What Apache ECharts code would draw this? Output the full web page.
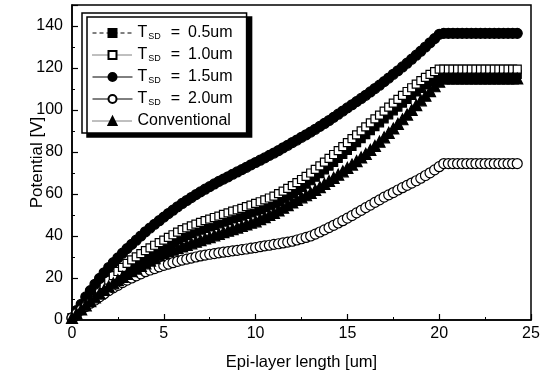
<!DOCTYPE html>
<html>
<head>
<meta charset="utf-8">
<script src="https://cdn.jsdelivr.net/npm/echarts@6/dist/echarts.min.js"></script>
<style>
  html, body { margin: 0; padding: 0; background: #fff; }
  #chart { width: 548px; height: 376px; }
</style>
</head>
<body>
<div id="chart"></div>
<script>
// x positions along the epi-layer [um]
const epiX = [
  0, 0.25, 0.5, 0.75, 1, 1.25, 1.5, 1.75, 2, 2.25, 2.5, 2.75, 3, 3.25, 3.5, 3.75,
  4, 4.25, 4.5, 4.75, 5, 5.25, 5.5, 5.75, 6, 6.25, 6.5, 6.75, 7, 7.25, 7.5, 7.75,
  8, 8.25, 8.5, 8.75, 9, 9.25, 9.5, 9.75, 10, 10.25, 10.5, 10.75, 11, 11.25, 11.5, 11.75,
  12, 12.25, 12.5, 12.75, 13, 13.25, 13.5, 13.75, 14, 14.25, 14.5, 14.75, 15, 15.25, 15.5, 15.75,
  16, 16.25, 16.5, 16.75, 17, 17.25, 17.5, 17.75, 18, 18.25, 18.5, 18.75, 19, 19.25, 19.5, 19.75,
  20, 20.25, 20.5, 20.75, 21, 21.25, 21.5, 21.75, 22, 22.25, 22.5, 22.75, 23, 23.25, 23.5, 23.75,
  24, 24.25
];

// T_SD = 0.5um (mostly hidden just under the 1.0um squares)
const tsd05 = [
  1, 3.1, 5.2, 7.2, 9.3, 11.4, 13.5, 15.5, 17.5, 19.4, 21.2, 23, 24.7, 26.1, 27.5, 28.8,
  30, 31.2, 32.3, 33.4, 34.5, 35.7, 36.9, 38.1, 39.3, 40.2, 41.1, 42, 42.8, 43.6, 44.3, 45.1,
  45.8, 46.6, 47.3, 48.1, 48.8, 49.5, 50.3, 51, 51.8, 52.6, 53.5, 54.4, 55.3, 56.5, 57.7, 59,
  60.3, 61.7, 63.2, 64.7, 66.3, 68, 69.7, 71.5, 73.3, 75.1, 77, 78.9, 80.8, 82.7, 84.5, 86.4,
  88.3, 90.2, 92.1, 93.9, 95.8, 97.7, 99.6, 101.4, 103.3, 105.1, 106.9, 108.6, 110.3, 111.9, 113.5, 115,
  116.3, 117, 117, 117, 117, 117, 117, 117, 117, 117, 117, 117, 117, 117, 117, 117,
  117, 117
];

const tsd10 = [
  1, 3.3, 5.6, 7.8, 10, 12.3, 14.6, 16.8, 19, 21.1, 23.1, 25.1, 27, 28.6, 30.1, 31.6,
  33, 34.3, 35.6, 36.8, 38, 39.3, 40.6, 41.8, 43, 43.9, 44.8, 45.7, 46.5, 47.3, 48, 48.8,
  49.5, 50.3, 51, 51.8, 52.5, 53.2, 54, 54.7, 55.5, 56.3, 57.2, 58.1, 59, 60.2, 61.4, 62.7,
  64, 65.4, 66.9, 68.4, 70, 71.7, 73.4, 75.2, 77, 78.8, 80.7, 82.6, 84.5, 86.4, 88.2, 90.1,
  92, 93.9, 95.8, 97.6, 99.5, 101.4, 103.3, 105.1, 107, 108.8, 110.6, 112.3, 114, 115.5, 117, 118.3,
  119.5, 119.5, 119.5, 119.5, 119.5, 119.5, 119.5, 119.5, 119.5, 119.5, 119.5, 119.5, 119.5, 119.5, 119.5, 119.5,
  119.5, 119.5
];

const tsd15 = [
  1, 4.5, 7.5, 11, 14, 17, 19.8, 22.5, 25, 27.3, 29.6, 31.8, 34, 36, 38, 40,
  42, 43.8, 45.6, 47.3, 49, 50.7, 52.3, 53.9, 55.5, 56.9, 58.3, 59.7, 61, 62.3, 63.5, 64.8,
  66, 67.1, 68.2, 69.4, 70.5, 71.6, 72.7, 73.9, 75, 76.1, 77.2, 78.4, 79.5, 80.7, 82, 83.2,
  84.5, 85.7, 87, 88.2, 89.5, 90.8, 92.2, 93.6, 95, 96.5, 98, 99.5, 101, 102.5, 104, 105.5,
  107, 108.6, 110.2, 111.8, 113.5, 115.2, 117, 118.7, 120.5, 122.3, 124.2, 126.1, 128, 130, 132, 134,
  136, 136.5, 136.5, 136.5, 136.5, 136.5, 136.5, 136.5, 136.5, 136.5, 136.5, 136.5, 136.5, 136.5, 136.5, 136.5,
  136.5, 136.5
];

const tsd20 = [
  1, 3, 4.8, 6.4, 8, 9.5, 11, 12.5, 14, 15.3, 16.5, 17.8, 19, 20, 21, 22,
  23, 23.8, 24.5, 25.3, 26, 26.6, 27.3, 27.9, 28.5, 29, 29.5, 30, 30.5, 30.9, 31.3, 31.6,
  32, 32.3, 32.6, 32.9, 33.2, 33.5, 33.8, 34.2, 34.5, 34.9, 35.3, 35.6, 36, 36.3, 36.7, 37.1,
  37.5, 38.1, 38.7, 39.3, 40, 40.9, 41.9, 42.9, 44, 45.1, 46.2, 47.3, 48.5, 49.7, 51, 52.2,
  53.5, 54.7, 56, 57.2, 58.5, 59.6, 60.7, 61.9, 63, 64.1, 65.2, 66.3, 67.5, 68.8, 70.1, 71.5,
  73, 74.5, 74.5, 74.5, 74.5, 74.5, 74.5, 74.5, 74.5, 74.5, 74.5, 74.5, 74.5, 74.5, 74.5, 74.5,
  74.5, 74.5
];

const conventional = [
  1, 3, 5, 7, 9, 10.8, 12.6, 14.3, 16, 17.5, 19, 20.5, 22, 23.3, 24.5, 25.8,
  27, 28.3, 29.5, 30.8, 32, 32.8, 33.5, 34.3, 35, 35.8, 36.5, 37.3, 38, 38.8, 39.5, 40.3,
  41, 41.8, 42.5, 43.3, 44, 44.8, 45.5, 46.3, 47, 48, 49, 50, 51, 52.2, 53.5, 54.7,
  56, 57.2, 58.4, 59.4, 60.5, 61.9, 63.3, 64.8, 66.2, 67.7, 69.2, 70.8, 72.4, 74, 75.7, 77.4,
  79.1, 81, 82.9, 84.9, 87, 89.1, 91.2, 93.4, 95.6, 97.8, 100, 102.3, 104.6, 106.8, 109, 111.3,
  113.5, 115, 115, 115, 115, 115, 115, 115, 115, 115, 115, 115, 115, 115, 115, 115,
  115, 115
];

const legendLabels = {
  T05: '0.5um',
  T10: '1.0um',
  T15: '1.5um',
  T20: '2.0um'
};
const xTicks = [0, 5, 10, 15, 20, 25];
const yTicks = [0, 20, 40, 60, 80, 100, 120, 140];

const pair = (ys) => epiX.map((x, i) => [x, ys[i]]);

const font = '"Liberation Sans", Arial, sans-serif';

const mkSeries = (name, ys, symbol, filled, size) => ({
  name: name,
  type: 'line',
  data: pair(ys),
  symbol: symbol,
  symbolSize: size,
  showSymbol: true,
  lineStyle: {opacity: 0, width: 1, color: '#000'},
  itemStyle: {
    color: filled ? '#000' : '#fff',
    borderColor: '#000',
    borderWidth: 1.2
  },
  emphasis: {disabled: true},
  animation: false
});

const chart = echarts.init(document.getElementById('chart'));

const option = {
  backgroundColor: '#fff',
  animation: false,
  textStyle: {fontFamily: font, color: '#000'},
  grid: {
    left: 72, right: 17, top: 5, bottom: 55,
    show: true, borderColor: '#000', borderWidth: 1.5
  },
  legend: {
    orient: 'vertical',
    left: 82, top: 13,
    padding: [12, 14, 4, 10],
    itemGap: 6,
    itemWidth: 40,
    itemHeight: 10,
    backgroundColor: '#fff',
    borderColor: '#000',
    borderWidth: 1.5,
    shadowColor: '#000',
    shadowBlur: 0,
    shadowOffsetX: 5,
    shadowOffsetY: 4,
    data: [
      {name: 'T05', lineStyle: {opacity: 1, width: 1, type: [4, 3]}},
      {name: 'T10', lineStyle: {opacity: 1, width: 1, type: 'dotted'}},
      {name: 'T15', lineStyle: {opacity: 1, width: 1, type: 'solid'}},
      {name: 'T20', lineStyle: {opacity: 1, width: 1, type: 'solid'}},
      {name: 'Conventional', lineStyle: {opacity: 1, width: 1, type: 'dotted'}}
    ],
    formatter: (name) => {
      if (name === 'Conventional') return '{t|Conventional}';
      return '{t|T}{sub|SD}{eq|=}{t|' + legendLabels[name] + '}';
    },
    textStyle: {
      fontFamily: font,
      color: '#000',
      rich: {
        t: {fontSize: 16, fontFamily: font, color: '#000', lineHeight: 17},
        sub: {fontSize: 9, fontFamily: font, color: '#000', padding: [7, 0, 0, 1], lineHeight: 10},
        eq: {fontSize: 16, fontFamily: font, color: '#000', padding: [0, 8, 0, 10], lineHeight: 17}
      }
    }
  },
  xAxis: {
    type: 'value',
    min: 0, max: 25, interval: 5,
    name: 'Epi-layer length [um]',
    nameLocation: 'middle',
    nameGap: 34,
    nameMoveOverlap: false,
    nameTextStyle: {fontSize: 16.5, fontFamily: font, color: '#000'},
    axisLine: {lineStyle: {color: '#000', width: 1.5}},
    axisTick: {inside: true, length: 6, lineStyle: {color: '#000', width: 1.2}},
    minorTick: {show: true, splitNumber: 2, length: 3, lineStyle: {color: '#000', width: 1}},
    axisLabel: {
      fontSize: 16, color: '#000', fontFamily: font, margin: 6,
      formatter: (v) => xTicks.includes(v) ? String(v) : ''
    },
    splitLine: {show: false}
  },
  yAxis: {
    type: 'value',
    min: 0, max: 150, interval: 20,
    name: 'Potential [V]',
    nameLocation: 'middle',
    nameGap: 26,
    nameMoveOverlap: false,
    nameTextStyle: {fontSize: 17, fontFamily: font, color: '#000'},
    axisLine: {lineStyle: {color: '#000', width: 1.5}},
    axisTick: {inside: true, length: 6, lineStyle: {color: '#000', width: 1.2}},
    minorTick: {show: true, splitNumber: 2, length: 3, lineStyle: {color: '#000', width: 1}},
    axisLabel: {
      fontSize: 16, color: '#000', fontFamily: font, margin: 9,
      formatter: (v) => yTicks.includes(v) ? String(v) : ''
    },
    splitLine: {show: false}
  },
  series: [
    mkSeries('T05', tsd05, 'rect', true, 8),
    mkSeries('T10', tsd10, 'rect', false, 8),
    mkSeries('T15', tsd15, 'circle', true, 10),
    mkSeries('T20', tsd20, 'circle', false, 10),
    mkSeries('Conventional', conventional, 'triangle', true, 11)
  ]
};

chart.setOption(option);
</script>
</body>
</html>
